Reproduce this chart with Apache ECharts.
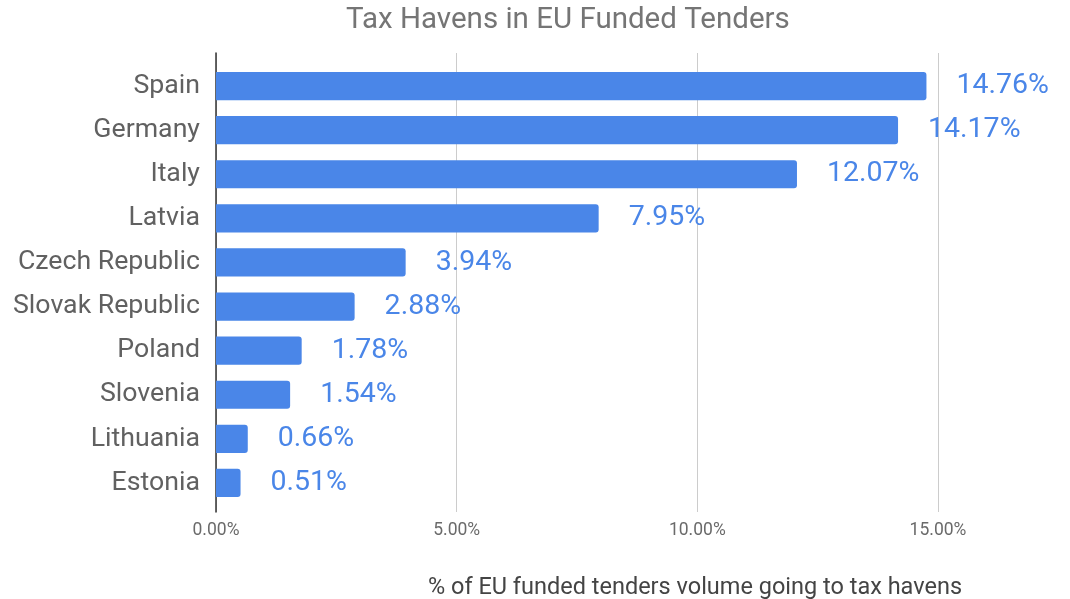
<!DOCTYPE html>
<html>
<head>
<meta charset="utf-8">
<script src="https://cdn.jsdelivr.net/npm/echarts@6/dist/echarts.min.js"></script>
<style>html,body{margin:0;padding:0;background:#fff;}#c{width:1070px;height:599px;}</style>
</head>
<body>
<div id="c"></div>
<script>
const categories = ['Spain','Germany','Italy','Latvia','Czech Republic','Slovak Republic','Poland','Slovenia','Lithuania','Estonia'];
const values = [14.76, 14.17, 12.07, 7.95, 3.94, 2.88, 1.78, 1.54, 0.66, 0.51];
const chartTitle = 'Tax Havens in EU Funded Tenders';
const axisTitle = '% of EU funded tenders volume going to tax havens';

const chart = echarts.init(document.getElementById('c'));
const F = 'Roboto, Arial, sans-serif';
chart.setOption({
  animation: false,
  backgroundColor: '#fff',
  title: [{
    text: chartTitle, left: 341, top: 1,
    textStyle: {fontFamily: F, fontSize: 29.5, fontWeight: 'normal', color: '#757575'}
  }, {
    text: axisTitle, left: 423, top: 571,
    textStyle: {fontFamily: F, fontSize: 23.5, fontWeight: 'normal', color: '#444'}
  }],
  grid: [
    {left: 216, right: 132, top: 64, bottom: 94},
    {left: 216, right: 132, top: 53, bottom: 87}
  ],
  xAxis: [{
    gridIndex: 0, type: 'value', min: 0, max: 15, interval: 5,
    axisLine: {show: false}, axisTick: {show: false}, axisLabel: {show: false}, splitLine: {show: false}
  }, {
    gridIndex: 1, type: 'value', min: 0, max: 15, interval: 5,
    axisLine: {show: false}, axisTick: {show: false},
    axisLabel: {fontFamily: F, fontSize: 17.5, color: '#6a6a6a', margin: 10,
      formatter: v => v.toFixed(2) + '%'},
    splitLine: {show: true, lineStyle: {color: '#cccccc', width: 1}}
  }],
  yAxis: [{
    gridIndex: 0, type: 'category', data: categories, inverse: true,
    axisLine: {show: false}, axisTick: {show: false},
    axisLabel: {fontFamily: F, fontSize: 26.7, color: '#616161', margin: 16}
  }, {
    gridIndex: 1, type: 'value', min: 0, max: 1,
    axisLine: {show: true, onZero: false, lineStyle: {color: '#333', width: 1.5}},
    axisTick: {show: false}, axisLabel: {show: false}, splitLine: {show: false}
  }],
  series: [{
    type: 'bar', xAxisIndex: 0, yAxisIndex: 0,
    data: values, barCategoryGap: '36%',
    itemStyle: {color: '#4a86e8', borderRadius: [0, 3, 3, 0]},
    label: {show: true, position: 'right', distance: 30, fontFamily: F, fontSize: 28.5, color: '#4a86e8',
      formatter: p => p.value.toFixed(2) + '%'},
    z: 3
  }]
});
</script>
</body>
</html>
